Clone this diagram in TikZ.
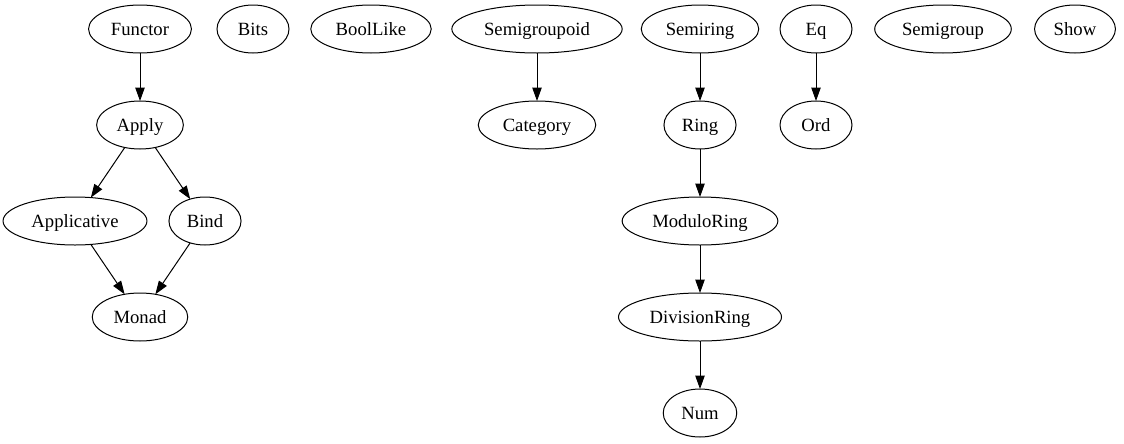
\documentclass[tikz,border=0pt]{standalone}
\usepackage{fontspec}
\setmainfont{Liberation Serif}
\usetikzlibrary{arrows.meta,positioning,shapes.geometric}

\begin{document}
\begin{tikzpicture}[
  x=0.75pt,y=-0.75pt,
  >={Triangle[length=10pt,width=7pt]},
  every node/.style={font=\fontsize{14}{16}\selectfont},
  cls/.style={draw,ellipse,line width=0.75pt,outer sep=0pt,
              inner xsep=5.5pt,inner ysep=2pt,text height=9.5pt,text depth=0pt,
              minimum width=54pt,minimum height=36pt},
  dep/.style={->,line width=0.75pt}
]
\useasboundingbox (0,0) rectangle (1124,443);

%% top rank
\node[cls] (functor)      at (140,29)  {Functor};
\node[cls] (bits)         at (253,29)  {Bits};
\node[cls] (boollike)     at (371,29)  {BoolLike};
\node[cls] (semigroupoid) at (537,29)  {Semigroupoid};
\node[cls] (semiring)     at (700,29)  {Semiring};
\node[cls] (eq)           at (816,29)  {Eq};
\node[cls] (semigroup)    at (943,29)  {Semigroup};
\node[cls] (show)         at (1075,29) {Show};

%% Functor family
\node[cls,below=36pt of functor] (apply)       {Apply};
\node[cls]                       (applicative) at (75,221)  {Applicative};
\node[cls]                       (bind)        at (205,221) {Bind};
\node[cls]                       (monad)       at (140,317) {Monad};

%% Category
\node[cls,below=36pt of semigroupoid] (category) {Category};

%% Ring column
\node[cls,below=36pt of semiring] (ring)     {Ring};
\node[cls,below=36pt of ring]     (modring)  {ModuloRing};
\node[cls,below=36pt of modring]  (divring)  {DivisionRing};
\node[cls,below=36pt of divring]  (num)      {Num};

%% Ord
\node[cls,below=36pt of eq] (ord) {Ord};

%% Arrows
\draw[dep] (functor)      -- (apply);
\draw[dep] (apply)        -- (applicative);
\draw[dep] (apply)        -- (bind);
\draw[dep] (applicative)  -- (monad);
\draw[dep] (bind)         -- (monad);
\draw[dep] (semigroupoid) -- (category);
\draw[dep] (semiring)     -- (ring);
\draw[dep] (ring)         -- (modring);
\draw[dep] (modring)      -- (divring);
\draw[dep] (divring)      -- (num);
\draw[dep] (eq)           -- (ord);

\end{tikzpicture}
\end{document}
